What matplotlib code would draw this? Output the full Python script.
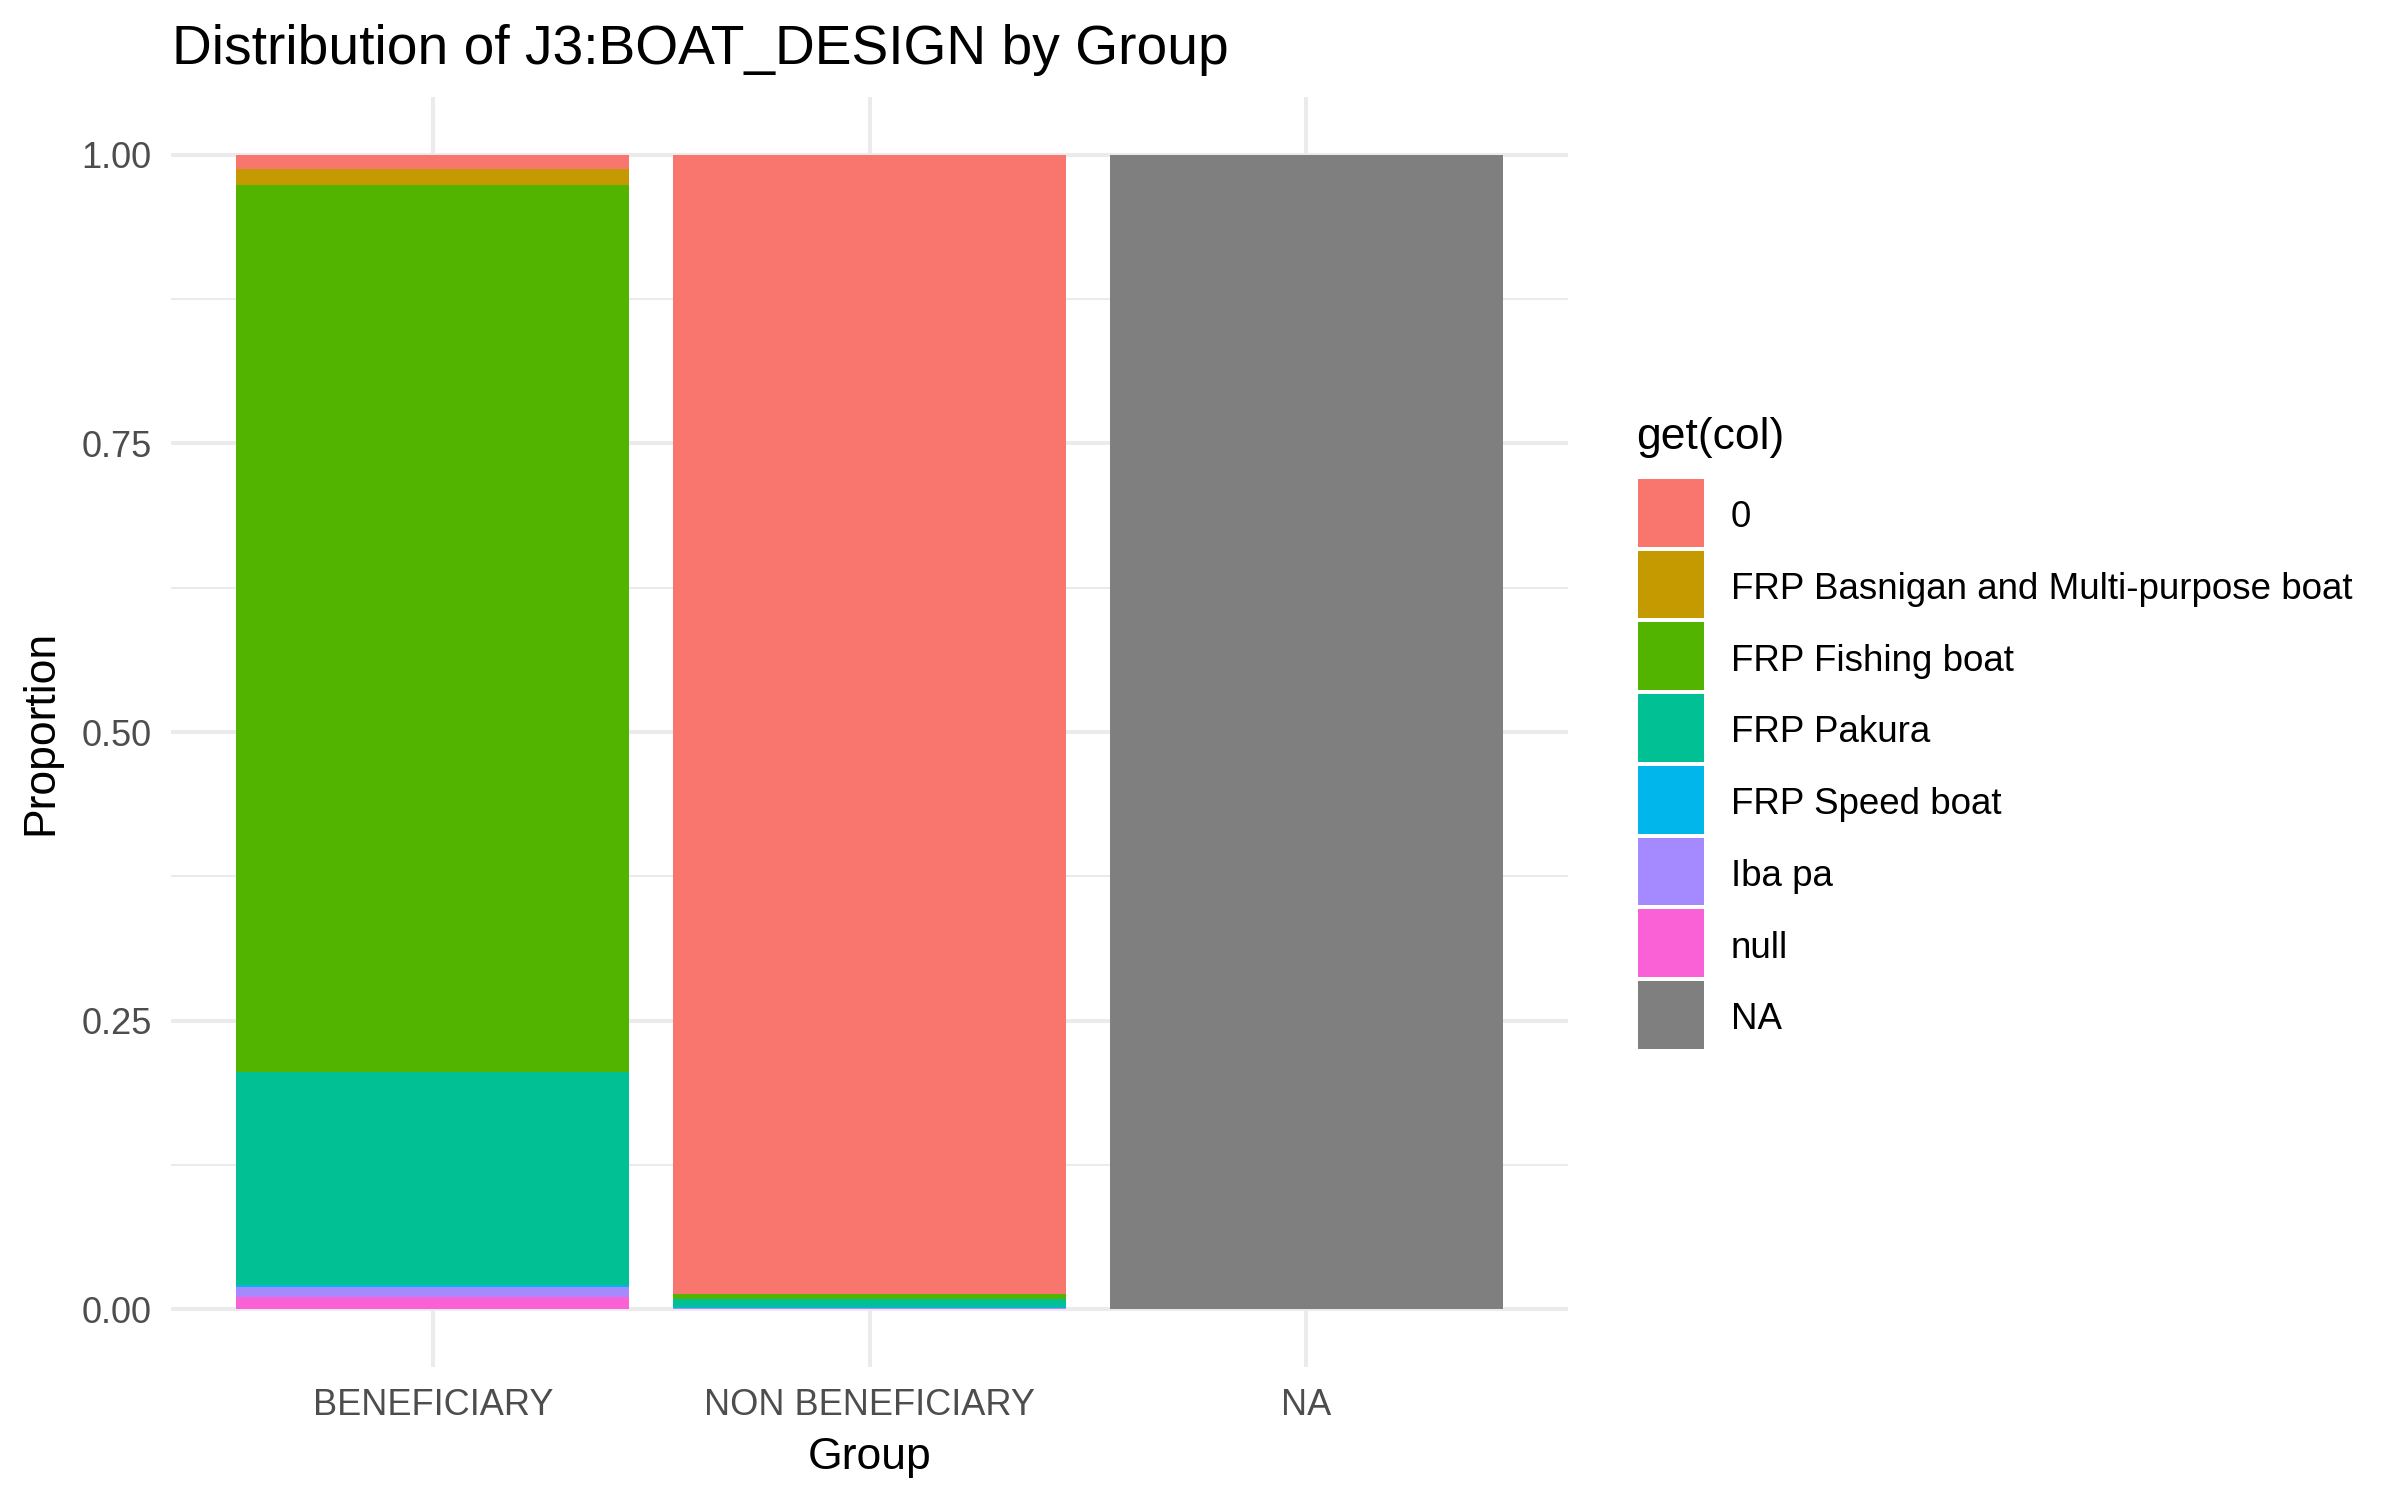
import matplotlib
matplotlib.use("Agg")
import matplotlib.pyplot as plt
from matplotlib.patches import Rectangle
import numpy as np

plt.rcParams['font.family'] = ['Liberation Sans', 'DejaVu Sans']

groups = ["BENEFICIARY", "NON BENEFICIARY", "NA"]
categories = ["0", "FRP Basnigan and Multi-purpose boat", "FRP Fishing boat",
              "FRP Pakura", "FRP Speed boat", "Iba pa", "null", "NA"]
colors = ["#F8766D", "#C49A00", "#53B400", "#00C094", "#00B6EB",
          "#A58AFF", "#FB61D7", "#7F7F7F"]

# proportions per category for each group (columns follow `groups`)
prop_0 = [0.0123, 0.9870, 0.0]
prop_basnigan = [0.0135, 0.0, 0.0]
prop_fishing = [0.7680, 0.0040, 0.0]
prop_pakura = [0.1850, 0.0070, 0.0]
prop_speed = [0.0017, 0.0006, 0.0]
prop_ibapa = [0.0087, 0.0014, 0.0]
prop_null = [0.0104, 0.0, 0.0]
prop_na = [0.0, 0.0, 1.0]

values = np.array([prop_0, prop_basnigan, prop_fishing, prop_pakura,
                   prop_speed, prop_ibapa, prop_null, prop_na])
values = values / values.sum(axis=0, keepdims=True)

W, H = 2400, 1500
fig = plt.figure(figsize=(24, 15), dpi=100)
fig.patch.set_facecolor("white")

def fx(px):
    return px / W

def fy(py):
    return 1 - py / H

pl, pr, pt, pb = 171, 1568, 97, 1367
ax = fig.add_axes([fx(pl), fy(pb), fx(pr) - fx(pl), fy(pt) - fy(pb)])

x = np.arange(1, len(groups) + 1)
# stack: last category at the bottom (ggplot order)
bottom = np.zeros(len(groups))
for i in range(len(categories) - 1, -1, -1):
    ax.bar(x, values[i], width=0.9, bottom=bottom, color=colors[i],
           edgecolor="none", zorder=3)
    bottom += values[i]

ax.set_xlim(0.4, 3.6)
ax.set_ylim(-0.05, 1.05)
ax.set_xticks(x)
ax.set_xticklabels(groups)
ax.set_yticks([0, 0.25, 0.5, 0.75, 1.0])
ax.set_yticklabels(["0.00", "0.25", "0.50", "0.75", "1.00"])
ax.set_yticks([0.125, 0.375, 0.625, 0.875], minor=True)

for s in ax.spines.values():
    s.set_visible(False)
ax.tick_params(axis="both", which="both", length=0, labelsize=26,
               labelcolor="#4D4D4D")
ax.tick_params(axis="x", pad=15)
ax.tick_params(axis="y", pad=14)
ax.grid(True, which="major", color="#EBEBEB", linewidth=2.9, zorder=0)
ax.grid(True, which="minor", axis="y", color="#EBEBEB", linewidth=1.45, zorder=0)
ax.set_axisbelow(True)

ax.set_xlabel("Group", fontsize=32, color="black", labelpad=10)
ax.set_ylabel("Proportion", fontsize=32, color="black", labelpad=14)

fig.text(fx(172), fy(64), "Distribution of J3:BOAT_DESIGN by Group",
         fontsize=39.7, color="black", ha="left", va="baseline")

# legend
fig.text(fx(1636), fy(449), "get(col)", fontsize=32, color="black",
         ha="left", va="baseline")
key_top = 478
step = 71.7
for i, (lab, c) in enumerate(zip(categories, colors)):
    y0 = key_top + i * step
    fig.add_artist(Rectangle((fx(1638), fy(y0 + step - 3)),
                             fx(1704) - fx(1638), (step - 4) / H,
                             transform=fig.transFigure, facecolor=c,
                             edgecolor="none"))
    fig.text(fx(1731), fy(y0 + step / 2 + 4), lab, fontsize=26.5,
             color="black", ha="left", va="center")

fig.savefig("out.png", dpi=100, facecolor="white")
